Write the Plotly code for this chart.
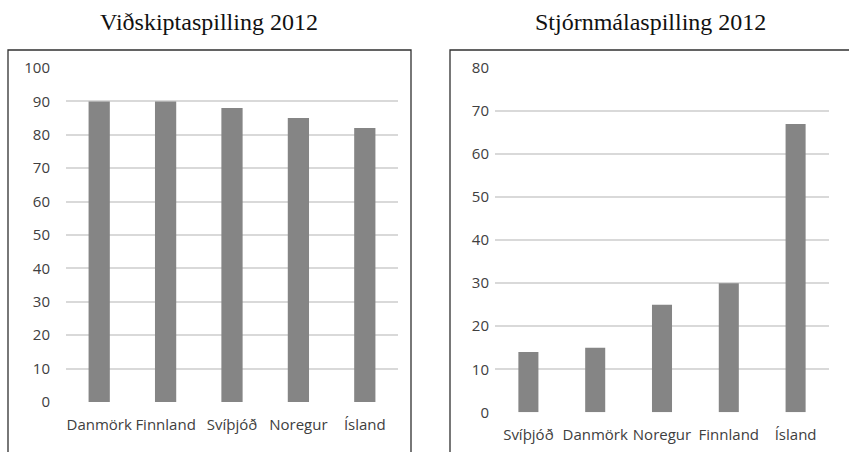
import plotly.graph_objects as go

W, H = 849, 452

left_title = "Viðskiptaspilling 2012"
left_categories = ["Danmörk", "Finnland", "Svíþjóð", "Noregur", "Ísland"]
left_values = [90, 90, 88, 85, 82]
left_ticks = [0, 10, 20, 30, 40, 50, 60, 70, 80, 90, 100]

right_title = "Stjórnmálaspilling 2012"
right_categories = ["Svíþjóð", "Danmörk", "Noregur", "Finnland", "Ísland"]
right_values = [14, 15, 25, 30, 67]
right_ticks = [0, 10, 20, 30, 40, 50, 60, 70, 80]

BAR = "#858585"
GRID = "#d9d9d9"
TXT = "#404040"
TICKFONT = dict(family="Open Sans", size=15, color=TXT)

def px(x):
    return x / W

def py(y):
    return (H - y) / H

fig = go.Figure()
fig.add_trace(go.Bar(x=left_categories, y=left_values, marker_color=BAR,
                     xaxis="x", yaxis="y", width=0.32, showlegend=False))
fig.add_trace(go.Bar(x=right_categories, y=right_values, marker_color=BAR,
                     xaxis="x2", yaxis="y2", width=0.30, showlegend=False))

axis_common = dict(showline=False, zeroline=False, ticks="", tickfont=TICKFONT,
                   automargin=False)

fig.update_layout(
    template="none",
    width=W, height=H, autosize=False,
    margin=dict(l=0, r=0, t=0, b=0, pad=0),
    paper_bgcolor="white", plot_bgcolor="white",
    xaxis=dict(domain=[px(66), px(398)], showgrid=False, tickangle=0,
               ticklabelstandoff=12, anchor="y", **axis_common),
    yaxis=dict(domain=[py(402), py(68)], range=[0, 100], tickvals=left_ticks,
               showgrid=True, gridcolor=GRID, gridwidth=1.5,
               ticklabelstandoff=15, anchor="x", **axis_common),
    xaxis2=dict(domain=[px(495), px(829)], showgrid=False, tickangle=0,
                ticklabelstandoff=12, anchor="y2", **axis_common),
    yaxis2=dict(domain=[py(412.3), py(68)], range=[0, 80], tickvals=right_ticks,
                showgrid=True, gridcolor=GRID, gridwidth=1.5,
                ticklabelstandoff=5, anchor="x2", **axis_common),
    annotations=[
        dict(text=left_title, x=px(209), y=py(22), xref="paper", yref="paper",
             xanchor="center", yanchor="middle", showarrow=False,
             font=dict(family="Liberation Serif", size=24, color="#111111")),
        dict(text=right_title, x=px(650), y=py(22), xref="paper", yref="paper",
             xanchor="center", yanchor="middle", showarrow=False,
             font=dict(family="Liberation Serif", size=24, color="#111111")),
    ],
    shapes=[
        dict(type="rect", xref="paper", yref="paper", x0=px(8), x1=px(411),
             y0=py(470), y1=py(50), line=dict(color="#303030", width=1.3)),
        dict(type="rect", xref="paper", yref="paper", x0=px(450), x1=px(870),
             y0=py(470), y1=py(50), line=dict(color="#303030", width=1.3)),
    ],
)

fig.write_html("out.html", config={"displayModeBar": False},
               post_script="document.body.style.margin='0';document.body.style.overflow='hidden';")
